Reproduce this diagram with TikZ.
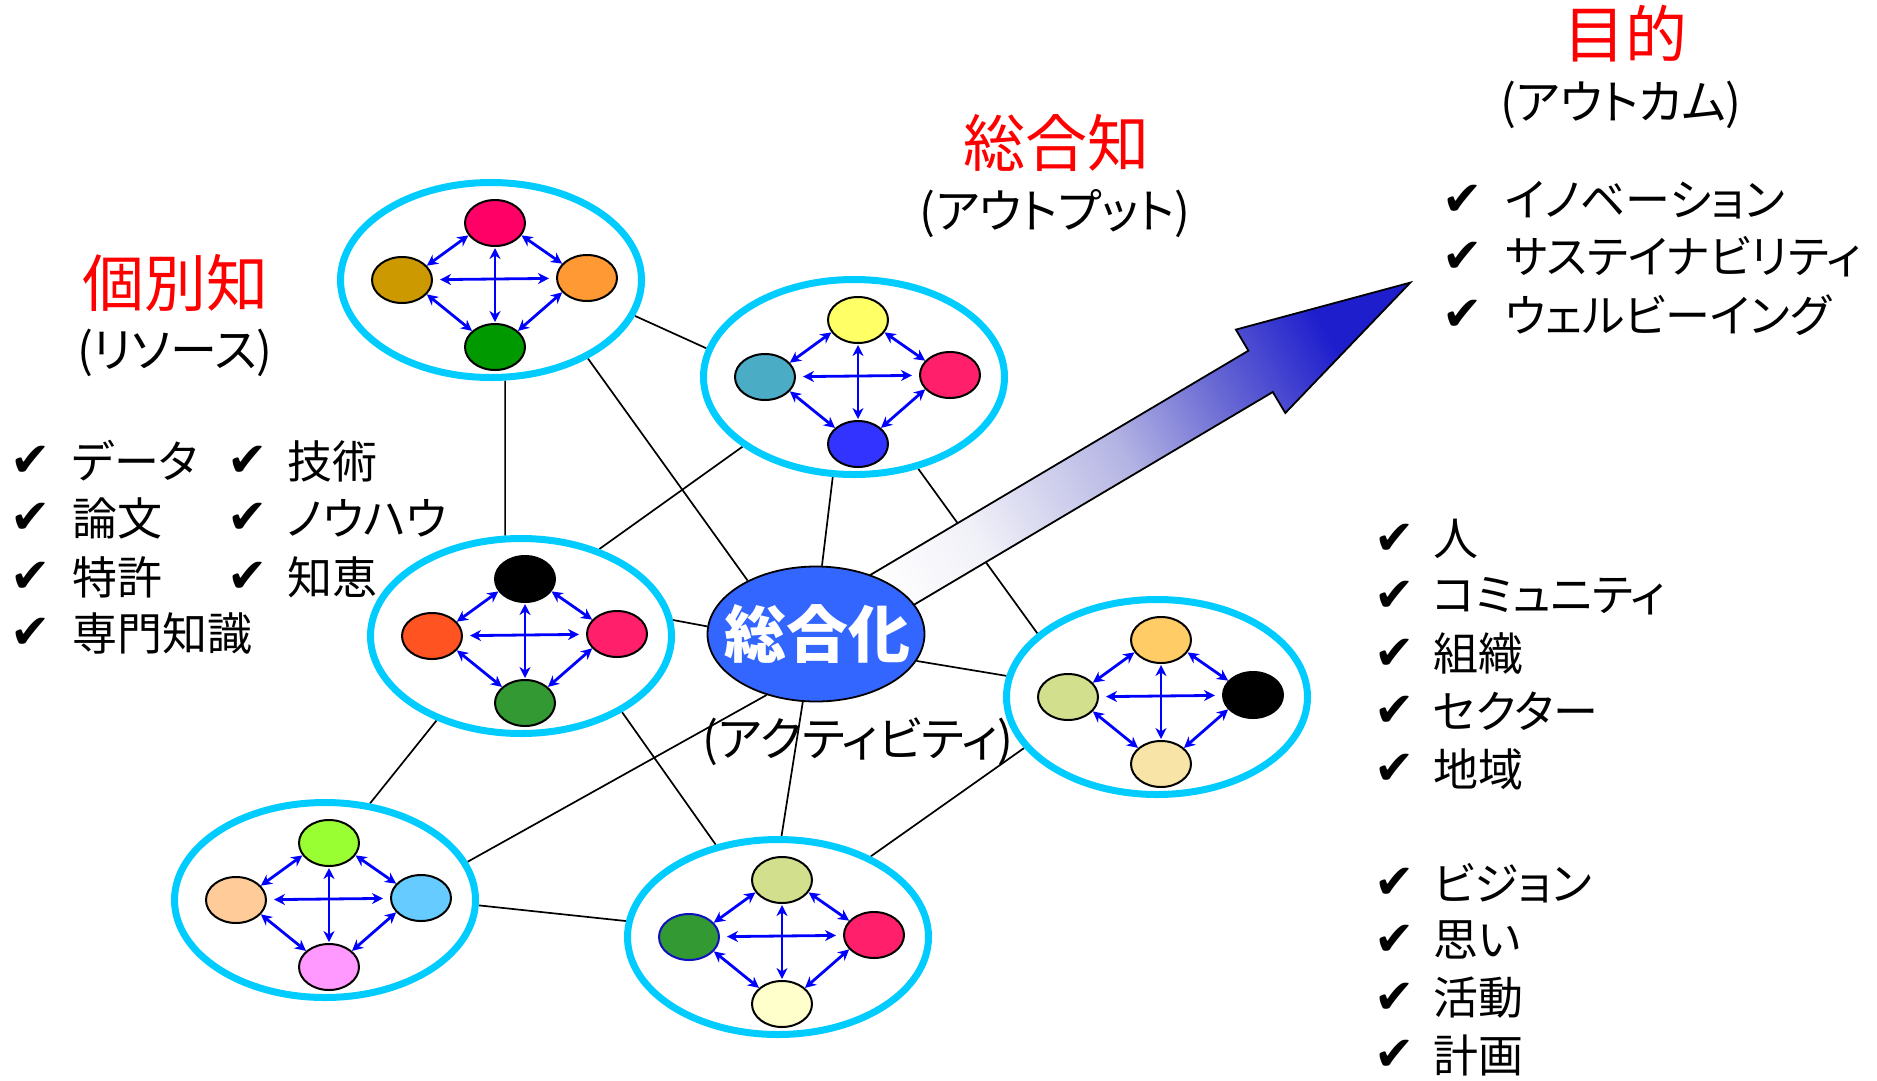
\documentclass[tikz,border=0pt]{standalone}
\usepackage{fontspec}
\setmainfont{Noto Sans CJK JP}[RawFeature={+palt}]
\newfontfamily\symf{DejaVu Sans}
\usetikzlibrary{shapes.geometric,arrows.meta}
\pgfdeclarelayer{bg}
\pgfsetlayers{bg,main}
\definecolor{ringc}{HTML}{00CCFF}
\definecolor{cenblue}{HTML}{3366FF}
\definecolor{kPink}{HTML}{FF0066}
\definecolor{kGold}{HTML}{CC9900}
\definecolor{kOrange}{HTML}{FF9933}
\definecolor{kGreen}{HTML}{009900}
\definecolor{kYellow}{HTML}{FFFF66}
\definecolor{kTeal}{HTML}{4BACC6}
\definecolor{kRose}{HTML}{FF1F6B}
\definecolor{kBlue}{HTML}{3333FF}
\definecolor{kRedOr}{HTML}{FF5322}
\definecolor{kMid}{HTML}{339933}
\definecolor{kApricot}{HTML}{FFCC66}
\definecolor{kOlive}{HTML}{D2E08E}
\definecolor{kCream}{HTML}{F9E4A7}
\definecolor{kLime}{HTML}{99FF33}
\definecolor{kPeach}{HTML}{FFCC99}
\definecolor{kSky}{HTML}{66CCFF}
\definecolor{kMagenta}{HTML}{FF99FF}
\definecolor{kIvory}{HTML}{FFFFCC}
\definecolor{kEdge}{HTML}{1010C0}
\definecolor{arrA}{RGB}{240,240,248}
\definecolor{arrB}{RGB}{180,180,228}
\definecolor{arrC}{RGB}{105,105,212}
\definecolor{arrD}{RGB}{30,30,205}
\pgfdeclareverticalshading{arrowshade}{100bp}{color(0bp)=(white); color(25bp)=(white); color(36bp)=(arrA); color(52bp)=(arrB); color(63bp)=(arrC); color(75bp)=(arrD); color(100bp)=(arrD)}
\tikzset{
  ring/.style={ellipse, draw=ringc, line width=7pt, fill=white, minimum width=301, minimum height=195, inner sep=0},
  inner/.style={ellipse, draw=black, line width=2pt, minimum width=60, minimum height=46, inner sep=0},
  iarr/.style={draw=blue, line width=2.8pt, {Stealth[length=11pt,width=11pt,inset=3.5pt]}-{Stealth[length=11pt,width=11pt,inset=3.5pt]}},
  link/.style={draw=black, line width=1.7pt},
  title/.style={text=red, font=\fontsize{62}{70}\selectfont, inner sep=0},
  sub/.style={font=\fontsize{47}{52}\selectfont, inner sep=0},
  item/.style={font=\fontsize{45}{52}\selectfont, inner sep=0, anchor=west},
  chk/.style={font=\symf\fontsize{48}{54}\selectfont, inner sep=0, anchor=west}
}
\newcommand\mkcluster[6]{%
  \node[ring] (#1) at (#2) {};
  \node[inner, fill=#3] (#1t) at ([shift={(4,-57)}]#1.center) {};
  \node[inner, fill=#4] (#1l) at ([shift={(-89,0)}]#1.center) {};
  \node[inner, fill=#5] (#1r) at ([shift={(96,-2)}]#1.center) {};
  \node[inner, fill=#6] (#1b) at ([shift={(4,67)}]#1.center) {};
  \draw[iarr, shorten <=7pt, shorten >=7pt] (#1l) -- (#1r);
  \draw[iarr, shorten <=1pt, shorten >=1pt] (#1t) -- (#1b);
  \draw[iarr] (#1t.205) -- (#1l.30);
  \draw[iarr] (#1t.-25) -- (#1r.150);
  \draw[iarr] (#1l.-30) -- (#1b.145);
  \draw[iarr] (#1r.210) -- (#1b.35);
}
\newcommand\chkitem[5]{%
  \node[chk] (#1c) at (#2,#4) {✔};
  \node[item] (#1) at (#3,#4) {#5};
}
\begin{document}
\begin{tikzpicture}[x=1pt, y=-1pt]
\useasboundingbox (0,0) rectangle (1877,1080);
% clusters
\mkcluster{c1}{491,280}{kPink}{kGold}{kOrange}{kGreen}
\mkcluster{c2}{854,377}{kYellow}{kTeal}{kRose}{kBlue}
\mkcluster{c3}{521,636}{black}{kRedOr}{kRose}{kMid}
\mkcluster{c4}{1157,697}{kApricot}{kOlive}{black}{kCream}
\mkcluster{c5}{325,900}{kLime}{kPeach}{kSky}{kMagenta}
\mkcluster{c6}{778,937}{kOlive}{kMid, draw=kEdge}{kRose}{kIvory}
% central node
\node[ellipse, fill=cenblue, draw=black, line width=1.8pt, minimum width=217, minimum height=135, inner sep=0] (cen) at (816,634) {};
\node[text=white, font=\bfseries\fontsize{62}{70}\selectfont, inner sep=0] (cenlab) at (817,634) {総合化};
\node[sub] (act) at (858,742) {(アクティビティ)};
% links and big arrow behind the nodes
\begin{pgfonlayer}{bg}
\draw[link] (c1.-14) -- (c2.169);
\draw[link] (c1.-39) -- (cen.142);
\draw[link] (c1.-82) -- (c3.99);
\draw[link] (c2.212) -- (c3.48);
\draw[link] (c2.-102) -- (cen.85);
\draw[link] (c2.-55) -- (c4.152);
\draw[link] (c3.6) -- (cen.176);
\draw[link] (cen.-15) -- (c4.172);
\draw[link] (c3.225) -- (c5.65);
\draw[link] (c3.-37) -- (c6.124);
\draw[link] (cen.231) -- (c5.15);
\draw[link] (cen.-101) -- (c6.88);
\draw[link] (c5.-2) -- (c6.174);
\draw[link] (c4.201) -- (c6.41);
\shadedraw[shading=arrowshade, shading angle=-60, draw=black, line width=1.8pt, line join=miter]
  (803.8,614.4) -- (1248.4,350.7) -- (1235.9,329.6) -- (1410.3,282.6) -- (1285.3,413.0) -- (1272.8,392.0) -- (828.2,655.6) -- cycle;
\end{pgfonlayer}
% titles
\node[title] (t1) at (175,283) {個別知};
\node[sub] (s1) at (175,353) {(リソース)};
\node[title] (t2) at (1056,143) {総合知};
\node[sub] (s2) at (1055,214) {(アウトプット)};
\node[title] (t3) at (1625,34) {目的};
\node[sub] (s3) at (1621,105) {(アウトカム)};
% left lists
\chkitem{la}{10}{72}{461}{データ}
\chkitem{lb}{10}{72}{518}{論文}
\chkitem{lc}{10}{72}{577}{特許}
\chkitem{ld}{10}{72}{633}{専門知識}
\chkitem{le}{227}{287}{461}{技術}
\chkitem{lf}{227}{287}{518}{ノウハウ}
\chkitem{lg}{227}{287}{577}{知恵}
% upper right list
\chkitem{ua}{1442}{1505}{200}{イノベーション}
\chkitem{ub}{1442}{1505}{257}{サステイナビリティ}
\chkitem{uc}{1442}{1505}{315}{ウェルビーイング}
% lower right list
\chkitem{ra}{1374}{1433}{539}{人}
\chkitem{rb}{1374}{1433}{596}{コミュニティ}
\chkitem{rc}{1374}{1433}{654}{組織}
\chkitem{rd}{1374}{1433}{711}{セクター}
\chkitem{re}{1374}{1433}{769}{地域}
\chkitem{rf}{1374}{1433}{883}{ビジョン}
\chkitem{rg}{1374}{1433}{940}{思い}
\chkitem{rh}{1374}{1433}{998}{活動}
\chkitem{ri}{1374}{1433}{1055}{計画}
\end{tikzpicture}
\end{document}
